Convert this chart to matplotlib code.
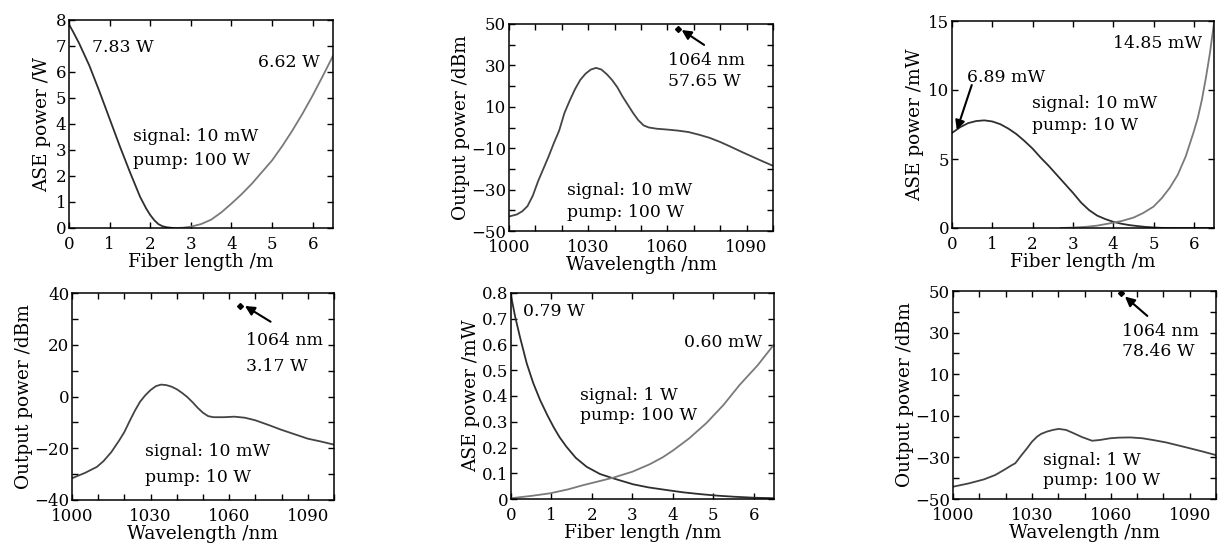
import numpy as np
import matplotlib
matplotlib.use("Agg")
import matplotlib.pyplot as plt

# (a) ASE power vs fiber length, signal 10 mW, pump 100 W
a_len_bwd = [0.0, 0.1, 0.25, 0.5, 0.75, 1.0, 1.25, 1.5, 1.75, 1.9, 2.0, 2.1, 2.2,
             2.3, 2.4, 2.5, 2.6]
a_ase_bwd = [7.83, 7.55, 7.1, 6.25, 5.25, 4.2, 3.15, 2.15, 1.2, 0.75, 0.5, 0.3, 0.15,
             0.07, 0.03, 0.01, 0.0]
a_len_fwd = [2.6, 2.8, 3.0, 3.25, 3.5, 3.75, 4.0, 4.25, 4.5, 4.75, 5.0, 5.25, 5.5,
             5.75, 6.0, 6.25, 6.5]
a_ase_fwd = [0.0, 0.01, 0.05, 0.15, 0.32, 0.6, 0.94, 1.3, 1.7, 2.15, 2.6, 3.15, 3.75,
             4.4, 5.1, 5.85, 6.62]

# (b) output spectrum, signal 10 mW, pump 100 W
b_wl = [1000, 1003, 1005, 1007, 1009, 1011, 1013, 1015, 1017, 1019, 1021, 1023, 1025,
        1027, 1029, 1031, 1033, 1035, 1037, 1039, 1041, 1043, 1045, 1047, 1049, 1051,
        1053, 1056, 1060, 1064, 1068, 1072, 1076, 1080, 1084, 1088, 1092, 1096, 1100]
b_dbm = [-43.0, -42.0, -40.5, -38.0, -33.0, -26.0, -20.0, -14.0, -7.5, -1.5, 7.0, 13.0,
         18.5, 23.0, 26.0, 28.0, 28.8, 28.0, 25.8, 23.0, 19.5, 15.0, 11.0, 7.0, 3.5,
         1.0, 0.0, -0.6, -1.0, -1.5, -2.2, -3.5, -5.0, -7.0, -9.3, -11.7, -14.0, -16.3,
         -18.5]
b_peak = (1064, 47.6)

# (c) ASE power vs fiber length, signal 10 mW, pump 10 W
c_len_bwd = [0.0, 0.2, 0.4, 0.6, 0.8, 1.0, 1.2, 1.4, 1.6, 1.8, 2.0, 2.2, 2.4, 2.6,
             2.8, 3.0, 3.2, 3.4, 3.6, 3.8, 4.0, 4.2, 4.4, 4.6, 4.8, 5.0, 5.2, 5.5, 6.5]
c_ase_bwd = [6.89, 7.3, 7.6, 7.75, 7.8, 7.72, 7.52, 7.2, 6.8, 6.3, 5.75, 5.1, 4.5, 3.85,
             3.2, 2.55, 1.85, 1.3, 0.9, 0.65, 0.45, 0.31, 0.21, 0.14, 0.08, 0.04, 0.01,
             0.0, 0.0]
c_len_fwd = [2.7, 3.0, 3.3, 3.6, 3.9, 4.2, 4.5, 4.74, 5.0, 5.2, 5.4, 5.6, 5.8, 6.0,
             6.1, 6.2, 6.3, 6.4, 6.5]
c_ase_fwd = [0.0, 0.03, 0.08, 0.17, 0.33, 0.5, 0.75, 1.08, 1.55, 2.15, 2.9, 3.85, 5.2,
             7.0, 8.0, 9.3, 10.9, 12.7, 14.85]

# (d) output spectrum, signal 10 mW, pump 10 W
d_wl = [1000, 1005, 1009.5, 1012, 1015, 1018, 1020, 1022, 1024, 1026, 1028, 1030,
        1032, 1034, 1036, 1038, 1040, 1042, 1044, 1046, 1048, 1050, 1052, 1054, 1058,
        1062, 1066, 1070, 1075, 1080, 1085, 1090, 1095, 1100]
d_dbm = [-31.6, -29.5, -27.2, -25.0, -21.5, -17.0, -13.7, -9.5, -5.5, -2.0, 0.5, 2.5,
         4.0, 4.6, 4.4, 3.8, 2.8, 1.4, -0.2, -2.2, -4.4, -6.3, -7.6, -8.0, -8.0, -7.8,
         -8.2, -9.2, -11.0, -12.9, -14.6, -16.3, -17.4, -18.6]
d_peak = (1064, 35.0)

# (e) ASE power vs fiber length, signal 1 W, pump 100 W
e_len = [0.0, 0.1, 0.22, 0.39, 0.55, 0.72, 0.9, 1.05, 1.2, 1.37, 1.6, 1.87, 2.2, 2.53,
         3.02, 3.4, 3.84, 4.25, 4.67, 5.1, 5.49, 6.0, 6.5]
e_ase_bwd = [0.79, 0.71, 0.63, 0.526, 0.45, 0.384, 0.325, 0.28, 0.24, 0.203, 0.16,
             0.125, 0.097, 0.08, 0.057, 0.045, 0.035, 0.026, 0.019, 0.013, 0.009,
             0.005, 0.003]
e_len_fwd = [0.0, 0.5, 0.96, 1.4, 1.79, 2.15, 2.53, 3.0, 3.43, 3.75, 4.0, 4.4, 4.83,
             5.25, 5.65, 6.1, 6.5]
e_ase_fwd = [0.003, 0.012, 0.022, 0.037, 0.054, 0.068, 0.083, 0.106, 0.135, 0.162,
             0.188, 0.235, 0.295, 0.365, 0.443, 0.52, 0.60]

# (f) output spectrum, signal 1 W, pump 100 W
f_wl = [1000, 1006, 1011.7, 1016, 1019.3, 1022, 1023.7, 1026, 1028.1, 1030, 1031.9,
        1033.5, 1035.7, 1038, 1040.2, 1043, 1045.9, 1049, 1052.9, 1056, 1059.8, 1063,
        1067.4, 1072, 1076.3, 1081, 1085.2, 1090, 1095, 1100]
f_dbm = [-44.1, -42.5, -40.6, -38.5, -36.1, -34.0, -32.8, -29.0, -25.7, -22.5, -20.1,
         -18.7, -17.6, -16.8, -16.3, -16.8, -18.4, -20.2, -22.0, -21.6, -20.8, -20.5,
         -20.4, -20.8, -21.7, -22.8, -24.1, -25.6, -27.2, -28.9]
f_peak = (1064, 48.95)

DARK = "#2e2e2e"
LIGHT = "#7a7a7a"
SPEC = "#444444"

plt.rcParams["font.family"] = ["DejaVu Serif"]
plt.rcParams["font.size"] = 12.4
plt.rcParams["axes.labelsize"] = 13.3

W, H = 1224, 550
fig = plt.figure(figsize=(W / 100, H / 100), dpi=100)


def add_ax(left, right, top, bottom):
    return fig.add_axes([left / W, 1 - bottom / H, (right - left) / W, (bottom - top) / H])


def style(ax, xticks, xlabels, yticks, ylabels):
    ax.set_xticks(xticks)
    ax.set_xticklabels(xlabels)
    ax.set_yticks(yticks)
    ax.set_yticklabels(ylabels)
    ax.tick_params(direction="in", top=True, right=True, length=4, width=1,
                   labelsize=12)
    ax.tick_params(axis="x", pad=6)
    ax.tick_params(axis="y", pad=2)
    for s in ax.spines.values():
        s.set_linewidth(1.1)


def lab(vals, keep):
    return [(str(v).replace("-", "\u2212") if v in keep else "") for v in vals]


def arrow(ax, head, tail):
    ax.annotate("", xy=head, xytext=tail,
                arrowprops=dict(arrowstyle="-|>", color="black", lw=1.5, mutation_scale=14,
                                shrinkA=0, shrinkB=0))


wl_ticks = list(range(1000, 1101, 10))
wl_labels = lab(wl_ticks, [1000, 1030, 1060, 1090])

# (a)
ax = add_ax(69, 333, 20, 228)
ax.plot(a_len_bwd, a_ase_bwd, color=DARK, lw=1.3)
ax.plot(a_len_fwd, a_ase_fwd, color=LIGHT, lw=1.3)
ax.set_xlim(0, 6.5)
ax.set_ylim(0, 8)
style(ax, range(0, 7), [str(i) for i in range(7)], range(0, 9), [str(i) for i in range(9)])
ax.set_xlabel("Fiber length /m", labelpad=0)
ax.set_ylabel("ASE power /W", labelpad=3)
ax.text(0.57, 6.96, "7.83 W", va="center")
ax.text(4.65, 6.35, "6.62 W", va="center")
ax.text(1.58, 3.85, "signal: 10 mW\npump: 100 W", va="top", linespacing=1.55)

# (b)
ax = add_ax(509, 773, 24, 231)
ax.plot(b_wl, b_dbm, color=SPEC, lw=1.3)
ax.plot(*b_peak, marker="D", color="black", ms=3)
ax.set_xlim(1000, 1100)
ax.set_ylim(-50, 50)
yt = list(range(-50, 51, 10))
style(ax, wl_ticks, wl_labels, yt, lab(yt, [-50, -30, -10, 10, 30, 50]))
ax.set_xlabel("Wavelength /nm", labelpad=0)
ax.set_ylabel("Output power /dBm", labelpad=1)
ax.text(1060.2, 36.5, "1064 nm\n57.65 W", va="top", linespacing=1.3)
arrow(ax, (1065.4, 47.1), (1073.9, 39.9))
ax.text(1022, -26.3, "signal: 10 mW\npump: 100 W", va="top", linespacing=1.36)

# (c)
ax = add_ax(952, 1214, 21, 228)
ax.plot(c_len_bwd, c_ase_bwd, color=DARK, lw=1.3)
ax.plot(c_len_fwd, c_ase_fwd, color=LIGHT, lw=1.3)
ax.set_xlim(0, 6.5)
ax.set_ylim(0, 15)
style(ax, range(0, 7), [str(i) for i in range(7)], [0, 5, 10, 15], ["0", "5", "10", "15"])
ax.set_xlabel("Fiber length /m", labelpad=0)
ax.set_ylabel("ASE power /mW", labelpad=3)
ax.text(0.37, 10.87, "6.89 mW", va="center")
arrow(ax, (0.12, 7.1), (0.49, 10.36))
ax.text(3.99, 13.4, "14.85 mW", va="center")
ax.text(1.98, 9.64, "signal: 10 mW\npump: 10 W", va="top", linespacing=1.36)

# (d)
ax = add_ax(72, 334, 293, 500)
ax.plot(d_wl, d_dbm, color=SPEC, lw=1.3)
ax.plot(*d_peak, marker="D", color="black", ms=3)
ax.set_xlim(1000, 1100)
ax.set_ylim(-40, 40)
yt = list(range(-40, 41, 10))
style(ax, wl_ticks, wl_labels, yt, lab(yt, [-40, -20, 0, 20, 40]))
ax.set_xlabel("Wavelength /nm", labelpad=0)
ax.set_ylabel("Output power /dBm", labelpad=1)
ax.text(1066.4, 24.9, "1064 nm\n3.17 W", va="top", linespacing=1.65)
arrow(ax, (1066.0, 35.0), (1075.8, 28.9))
ax.text(1027.9, -18.0, "signal: 10 mW\npump: 10 W", va="top", linespacing=1.67)

# (e)
ax = add_ax(511, 774, 293, 499)
ax.plot(e_len, e_ase_bwd, color=DARK, lw=1.3)
ax.plot(e_len_fwd, e_ase_fwd, color=LIGHT, lw=1.3)
ax.set_xlim(0, 6.5)
ax.set_ylim(0, 0.8)
yt = [round(0.1 * i, 1) for i in range(9)]
style(ax, range(0, 7), [str(i) for i in range(7)], yt, ["0"] + [str(v) for v in yt[1:]])
ax.set_xlabel("Fiber length /nm", labelpad=0)
ax.set_ylabel("ASE power /mW", labelpad=1)
ax.text(0.3, 0.73, "0.79 W", va="center")
ax.text(6.22, 0.606, "0.60 mW", va="center", ha="right")
ax.text(1.70, 0.435, "signal: 1 W\npump: 100 W", va="top", linespacing=1.23)

# (f)
ax = add_ax(953, 1216, 291, 499)
ax.plot(f_wl, f_dbm, color=SPEC, lw=1.3)
ax.plot(*f_peak, marker="D", color="black", ms=3)
ax.set_xlim(1000, 1100)
ax.set_ylim(-50, 50)
yt = list(range(-50, 51, 10))
style(ax, wl_ticks, wl_labels, yt, lab(yt, [-50, -30, -10, 10, 30, 50]))
ax.set_xlabel("Wavelength /nm", labelpad=0)
ax.set_ylabel("Output power /dBm", labelpad=1)
ax.text(1064.3, 34.6, "1064 nm\n78.46 W", va="top", linespacing=1.23)
arrow(ax, (1065.4, 47.3), (1073.9, 38.0))
ax.text(1034.2, -27.4, "signal: 1 W\npump: 100 W", va="top", linespacing=1.23)

fig.savefig("out.png", dpi=100)
